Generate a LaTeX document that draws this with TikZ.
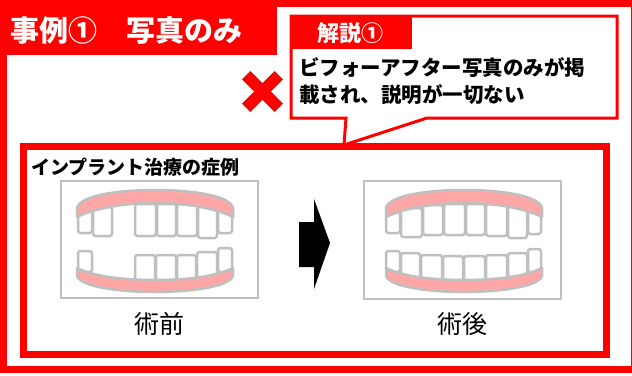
\documentclass[tikz,border=0pt]{standalone}
\usepackage{fontspec}
\setmainfont{Noto Sans CJK JP}
\definecolor{myred}{RGB}{255,0,0}
\definecolor{pgray}{RGB}{191,191,191}
\definecolor{gumpink}{RGB}{255,166,166}
\tikzset{
  frameline/.style={draw=myred, line width=7pt},
  tooth/.style={draw=pgray, fill=white, line width=2.5pt, rounded corners=2.5pt},
  gum/.style={draw=pgray, fill=gumpink, line width=2.5pt, line join=round},
  photo/.style={draw=pgray, line width=2.5pt},
  uppergum/.pic={
    \path[gum] (-78,217) -- (-78,208) .. controls (-75,195) and (-35,190) .. (0,190)
      .. controls (35,190) and (75,195) .. (78,208) -- (78,217)
      .. controls (60,208) and (30,203) .. (0,203)
      .. controls (-30,203) and (-60,208) .. (-78,217) -- cycle;
  },
  lowergum/.pic={
    \path[gum] (-78,268) .. controls (-60,277) and (-30,280) .. (0,280)
      .. controls (30,280) and (60,277) .. (78,268) -- (78,276)
      .. controls (74,287) and (35,292) .. (0,292)
      .. controls (-35,292) and (-74,287) .. (-78,276) -- cycle;
  },
  titletext/.style={text=white, font=\bfseries\fontsize{29}{32}\selectfont, inner sep=0pt},
  tabtext/.style={text=white, font=\bfseries\fontsize{22}{24}\selectfont, inner sep=0pt},
  bodytext/.style={text=black, font=\bfseries\fontsize{20.5}{27}\selectfont, inner sep=0pt, align=left},
  casetext/.style={text=black, font=\bfseries\fontsize{19}{22}\selectfont, inner sep=0pt},
  captext/.style={text=black, font=\fontsize{25}{28}\selectfont, inner sep=0pt},
}
\begin{document}
\begin{tikzpicture}[x=1pt,y=-1pt]
\useasboundingbox (0,0) rectangle (632,375);
% outer frame and title
\path[frameline] (3,3.5) rectangle (634,369);
\fill[myred] (0,0) rectangle (277,55);
\node[titletext, anchor=west] (title) at (10,31) {事例①　写真のみ};
% inner frame
\path[frameline] (23,146.5) rectangle (606,354);
\node[casetext, anchor=west] (case) at (31,167) {インプラント治療の症例};
% callout
\path[fill=white, draw=myred, line width=3pt, line join=miter]
  (291,16) -- (617,16) -- (617,118) -- (427,118) -- (344,145) -- (346,118) -- (291,118) -- cycle;
\fill[myred] (291,16) rectangle (412,49);
\node[tabtext] (tab) at (350,33) {解説①};
\node[bodytext, anchor=north west] (body) at (299,57) {ビフォーアフター写真のみが掲\\載され、説明が一切ない};
% red cross
\draw[myred, line width=12pt] (246.2,75.2) -- (278.8,107.8);
\draw[myred, line width=12pt] (246.2,107.8) -- (278.8,75.2);
% arrow
\fill[black] (299,222) -- (314,222) -- (314,199) -- (330,243) -- (314,289) -- (314,267) -- (299,267) -- cycle;
% photo frames
\path[photo] (61,181) rectangle (258,298);
\path[photo] (364,181) rectangle (561,299);
% before: teeth
\foreach \a/\b/\c/\d in {78/210/92/233, 93/207/112/236, 135/204/156/236, 157/204/176/236,
  177/204/197/236, 198/206/217/238, 218/210/232/233,
  78/251/92/272, 135/255/155/284, 156/255/176/284, 177/255/196/284, 197/252/217/282, 218/248/232/272}
  \path[tooth] (\a,\b) rectangle (\c,\d);
\pic at (155,0) {uppergum};
\pic at (155,0) {lowergum};
% after: teeth
\foreach \a/\b/\c/\d in {386/212/400/233, 401/208/422/237, 423/205/443/235, 444/204/465/235,
  466/204/485/235, 486/204/507/236, 508/206/527/238, 528/210/541/234,
  386/251/400/272, 401/253/420/280, 421/255/442/284, 443/256/463/285, 464/256/485/285,
  486/255/507/284, 508/253/527/280, 528/249/541/272}
  \path[tooth] (\a,\b) rectangle (\c,\d);
\pic at (464,0) {uppergum};
\pic at (464,0) {lowergum};
% captions
\node[captext] (before) at (159.5,324) {術前};
\node[captext] (after) at (462.5,324) {術後};
\end{tikzpicture}
\end{document}
